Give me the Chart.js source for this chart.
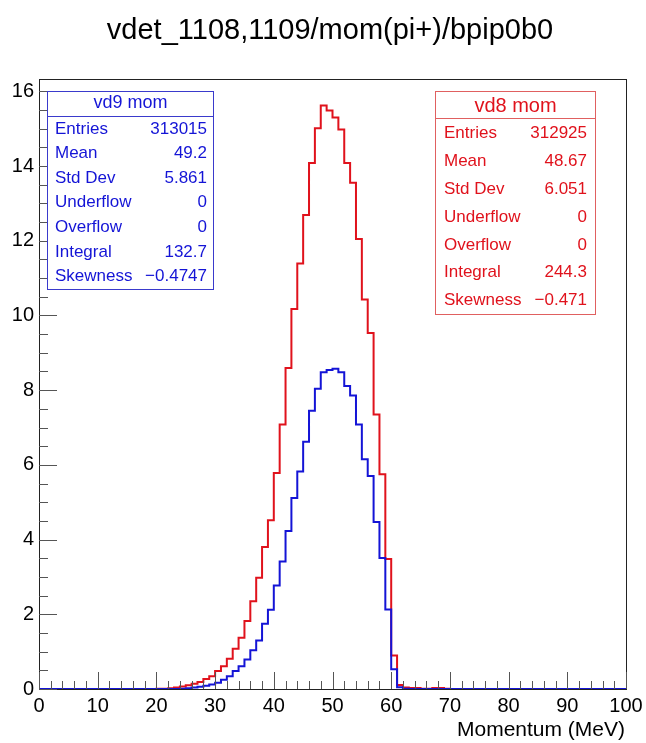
<!DOCTYPE html>
<html lang="en">
<head>
    <meta charset="UTF-8">
    <title>vdet_1108,1109/mom(pi+)/bpip0b0</title>
    <style>
        html, body { margin: 0; padding: 0; background: #fff; }
        #wrap { width: 646px; height: 743px; position: relative; }
    </style>
</head>
<body>
    <div id="wrap"><canvas id="histo" width="646" height="743"></canvas></div>

    <script src="https://cdn.jsdelivr.net/npm/chart.js"></script>
    <script>
        // Bin contents, 1 MeV bins from 0 to 100 MeV
        const vd8Values = [
            0, 0, 0, 0, 0, 0, 0, 0, 0, 0,
            0, 0, 0, 0, 0, 0, 0, 0, 0, 0,
            0.01, 0.01, 0.02, 0.04, 0.07, 0.10, 0.14, 0.19, 0.27, 0.34,
            0.48, 0.61, 0.81, 1.08, 1.37, 1.82, 2.35, 2.98, 3.80, 4.52,
            5.78, 7.08, 8.59, 10.17, 11.39, 12.69, 14.08, 15.01, 15.62, 15.49,
            15.30, 14.98, 14.08, 13.55, 12.05, 10.43, 9.53, 7.35, 5.75, 3.48,
            0.90, 0.11, 0.04, 0.03, 0.03, 0.01, 0.01, 0.03, 0.03, 0.01,
            0, 0, 0, 0, 0, 0, 0, 0, 0, 0,
            0, 0, 0, 0, 0, 0, 0, 0, 0, 0,
            0, 0, 0, 0, 0, 0, 0, 0, 0, 0
        ];
        const vd9Values = [
            0, 0, 0, 0, 0, 0, 0, 0, 0, 0,
            0, 0, 0, 0, 0, 0, 0, 0, 0, 0,
            0, 0, 0, 0, 0.01, 0.02, 0.04, 0.06, 0.09, 0.12,
            0.17, 0.25, 0.34, 0.48, 0.61, 0.79, 1.04, 1.30, 1.75, 2.12,
            2.77, 3.41, 4.23, 5.11, 5.82, 6.62, 7.45, 8.04, 8.48, 8.54,
            8.57, 8.48, 8.11, 7.86, 7.08, 6.15, 5.70, 4.47, 3.51, 2.13,
            0.53, 0.05, 0.01, 0, 0, 0, 0, 0, 0, 0,
            0, 0, 0, 0, 0, 0, 0, 0, 0, 0,
            0, 0, 0, 0, 0, 0, 0, 0, 0, 0,
            0, 0, 0, 0, 0, 0, 0, 0, 0, 0
        ];
        const xMin = 0, xMax = 100, binWidth = 1;
        const yMax = 16.33;

        const xTickLabels = ['0', '10', '20', '30', '40', '50', '60', '70', '80', '90', '100'];
        const yTickLabels = ['0', '2', '4', '6', '8', '10', '12', '14', '16'];
        const xMinorStep = 2;
        const yMinorStep = 0.5;

        const titleText = 'vdet_1108,1109/mom(pi+)/bpip0b0';
        const xAxisTitle = 'Momentum (MeV)';

        const statLabels = ['Entries', 'Mean', 'Std Dev', 'Underflow', 'Overflow', 'Integral', 'Skewness'];
        const vd9Stats = ['313015', '49.2', '5.861', '0', '0', '132.7', '\u22120.4747'];
        const vd8Stats = ['312925', '48.67', '6.051', '0', '0', '244.3', '\u22120.471'];

        const RED = '#e0121c';
        const BLUE = '#1414d6';
        const FONT = "'Liberation Sans', Arial, Helvetica, sans-serif";

        // bin low edges + closing point at the upper edge
        function toSteps(values) {
            const pts = values.map((v, i) => ({ x: xMin + i * binWidth, y: v }));
            pts.push({ x: xMax, y: values[values.length - 1] });
            return pts;
        }

        function drawStatBox(ctx, box, title, values, color, borderColor) {
            ctx.save();
            ctx.fillStyle = '#fff';
            ctx.fillRect(box.left, box.top, box.right - box.left, box.bottom - box.top);
            ctx.strokeStyle = borderColor;
            ctx.lineWidth = 1;
            ctx.strokeRect(box.left, box.top, box.right - box.left, box.bottom - box.top);
            ctx.beginPath();
            ctx.moveTo(box.left, box.header);
            ctx.lineTo(box.right, box.header);
            ctx.stroke();

            ctx.fillStyle = color;
            ctx.textBaseline = 'middle';
            ctx.font = box.titleSize + 'px ' + FONT;
            ctx.textAlign = 'center';
            ctx.fillText(title, (box.left + box.right) / 2, box.titleY);

            ctx.font = box.rowSize + 'px ' + FONT;
            statLabels.forEach((lab, i) => {
                const y = box.rowY + i * box.rowStep;
                ctx.textAlign = 'left';
                ctx.fillText(lab, box.labelX, y);
                ctx.textAlign = 'right';
                ctx.fillText(values[i], box.valueX, y);
            });
            ctx.restore();
        }

        const rootFrame = {
            id: 'rootFrame',
            afterDraw(chart) {
                const ctx = chart.ctx;
                const xs = chart.scales.x, ys = chart.scales.y;
                const area = chart.chartArea;
                ctx.save();

                // frame
                ctx.lineWidth = 1;
                ctx.strokeStyle = '#222';
                ctx.strokeRect(Math.round(area.left) + 0.5, Math.round(area.top) + 0.5,
                    Math.round(area.right - area.left), Math.round(area.bottom - area.top));

                // y ticks (inside)
                ctx.strokeStyle = '#555';
                ctx.beginPath();
                for (let v = 0; v <= yMax + 1e-9; v += yMinorStep) {
                    const py = Math.round(ys.getPixelForValue(v)) + 0.5;
                    const major = Math.abs(v / 2 - Math.round(v / 2)) < 1e-6;
                    ctx.moveTo(area.left, py);
                    ctx.lineTo(area.left + (major ? 18 : 9), py);
                }
                // x ticks (inside)
                for (let v = xMin; v <= xMax + 1e-9; v += xMinorStep) {
                    const px = Math.round(xs.getPixelForValue(v)) + 0.5;
                    const major = v % 10 === 0;
                    ctx.moveTo(px, area.bottom);
                    ctx.lineTo(px, area.bottom - (major ? 17 : 8));
                }
                ctx.stroke();

                // tick labels
                ctx.fillStyle = '#000';
                ctx.font = '20px ' + FONT;
                ctx.textBaseline = 'middle';
                ctx.textAlign = 'right';
                yTickLabels.forEach(t => {
                    ctx.fillText(t, area.left - 5, ys.getPixelForValue(Number(t)));
                });
                ctx.textAlign = 'center';
                xTickLabels.forEach(t => {
                    ctx.fillText(t, xs.getPixelForValue(Number(t)), area.bottom + 17);
                });

                // axis title
                ctx.font = '21px ' + FONT;
                ctx.textAlign = 'right';
                ctx.fillText(xAxisTitle, area.right - 1, area.bottom + 41);

                // main title
                ctx.font = '29px ' + FONT;
                ctx.textAlign = 'center';
                ctx.textBaseline = 'alphabetic';
                ctx.fillText(titleText, 330, 39);
                ctx.restore();

                drawStatBox(ctx, {
                    left: 47.5, right: 213.5, top: 91.5, bottom: 289.5, header: 116.5,
                    titleY: 103.5, titleSize: 18, rowY: 129, rowStep: 24.6, rowSize: 17,
                    labelX: 55, valueX: 207
                }, 'vd9 mom', vd9Stats, BLUE, '#3a3acc');

                drawStatBox(ctx, {
                    left: 435.5, right: 595.5, top: 91.5, bottom: 314.5, header: 118.5,
                    titleY: 106, titleSize: 20, rowY: 133.3, rowStep: 27.9, rowSize: 17,
                    labelX: 444, valueX: 587
                }, 'vd8 mom', vd8Stats, RED, '#e06060');
            }
        };

        const ctx = document.getElementById('histo').getContext('2d');
        const histo = new Chart(ctx, {
            type: 'line',
            data: {
                datasets: [{
                    label: 'vd9 mom',
                    data: toSteps(vd9Values),
                    borderColor: BLUE,
                    borderWidth: 2,
                    stepped: true,
                    pointRadius: 0,
                    fill: false,
                    order: 1
                }, {
                    label: 'vd8 mom',
                    data: toSteps(vd8Values),
                    borderColor: RED,
                    borderWidth: 2,
                    stepped: true,
                    pointRadius: 0,
                    fill: false,
                    order: 2
                }]
            },
            options: {
                responsive: false,
                animation: false,
                events: [],
                layout: {
                    padding: { left: 39, right: 20, top: 79, bottom: 54 }
                },
                scales: {
                    x: { type: 'linear', min: xMin, max: xMax, display: false },
                    y: { type: 'linear', min: 0, max: yMax, display: false }
                },
                plugins: {
                    legend: { display: false },
                    tooltip: { enabled: false },
                    title: { display: false }
                }
            },
            plugins: [rootFrame]
        });
    </script>
</body>
</html>
